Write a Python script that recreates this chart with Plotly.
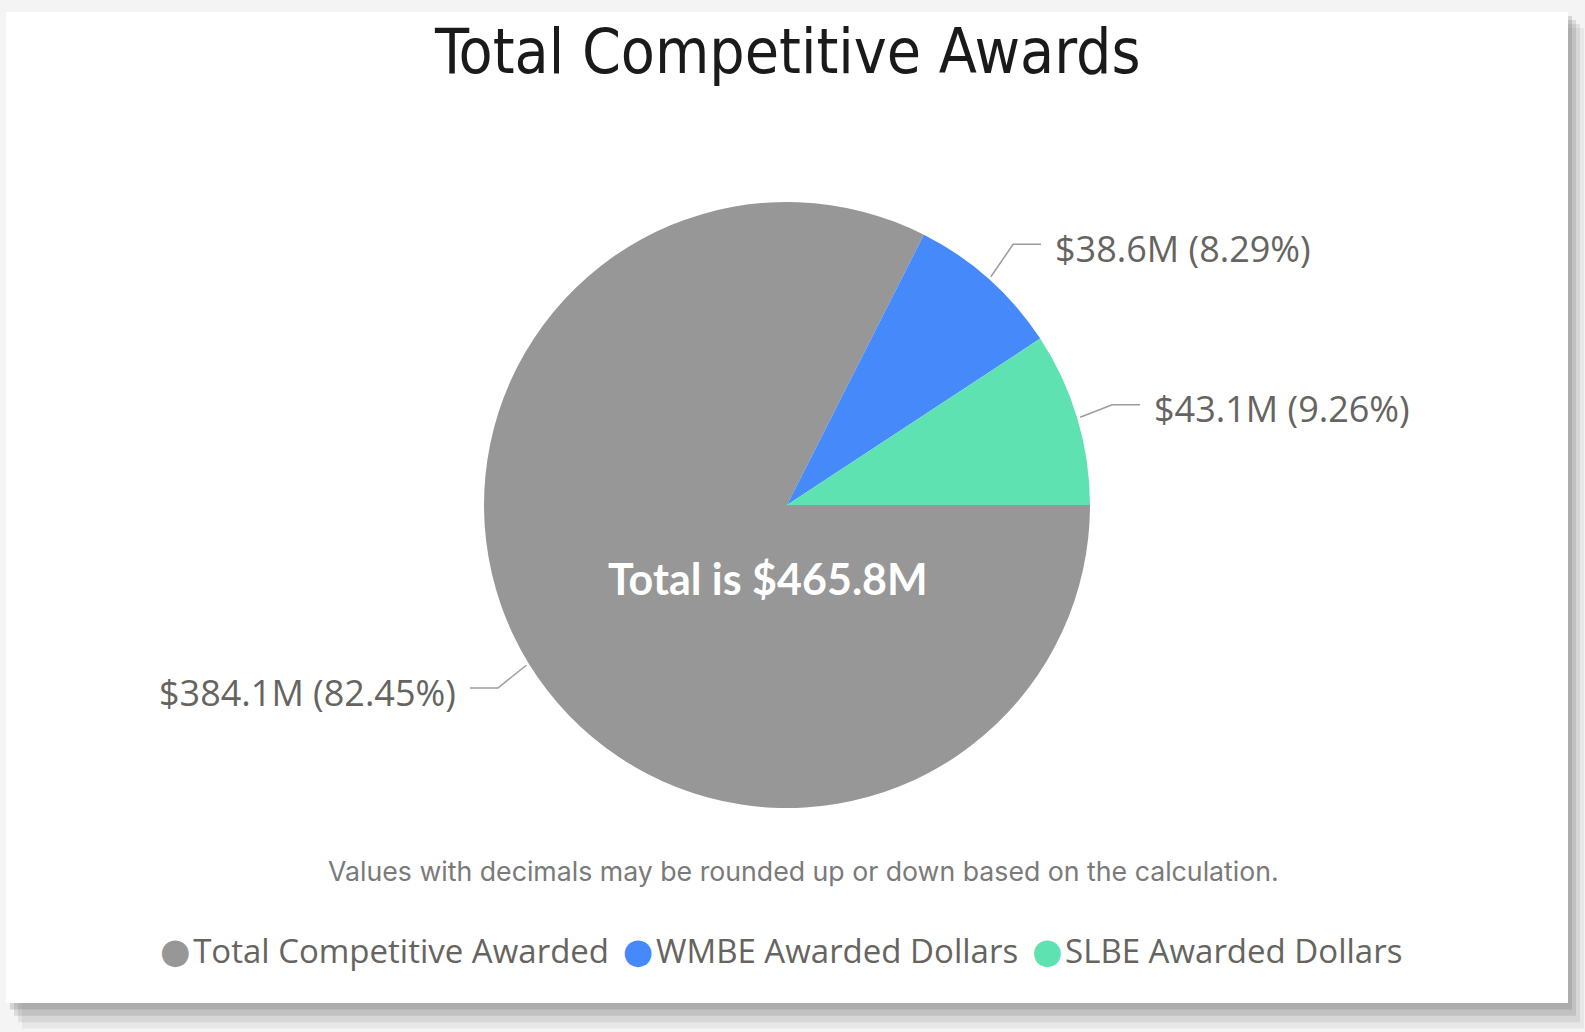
import math
import plotly.graph_objects as go

# Award categories and their dollar amounts (millions)
categories = ["Total Competitive Awarded", "WMBE Awarded Dollars", "SLBE Awarded Dollars"]
amounts_m = [384.1, 38.6, 43.1]
shares_pct = [82.45, 8.29, 9.26]
slice_colors = ["#979797", "#4589FA", "#5FE2B2"]

W, H = 1585, 1032
CX, CY, R = 787, 505, 303          # pie centre / radius in pixels
LABEL_FONT = "Open Sans, Noto Sans, sans-serif"
GREY_TEXT = "#66645F"


def px(x, y):
    """pixel position -> paper coordinates"""
    return x / W, 1 - y / H


fig = go.Figure()

x0, _ = px(CX - R, 0)
x1, _ = px(CX + R, 0)
_, y1 = px(0, CY - R)
_, y0 = px(0, CY + R)
fig.add_trace(go.Pie(
    labels=categories,
    values=amounts_m,
    marker=dict(colors=slice_colors, line=dict(width=0)),
    sort=False,
    direction="clockwise",
    rotation=90,
    textinfo="none",
    hoverinfo="label+value+percent",
    showlegend=False,
    domain=dict(x=[x0, x1], y=[y0, y1]),
))

shapes = []
annotations = []

# card background with a soft drop shadow
for off, op in [(16, 0.08), (12, 0.12), (8, 0.16), (4, 0.20)]:
    shapes.append(dict(type="rect", xref="paper", yref="paper", layer="below",
                       x0=(6 + off) / W, x1=(1568 + off) / W,
                       y0=1 - (1003 + off * 1.6) / H, y1=1 - (12 + off) / H,
                       fillcolor=f"rgba(90,90,90,{op})", line=dict(width=0)))
shapes.append(dict(type="rect", xref="paper", yref="paper", layer="below",
                   x0=6 / W, x1=1568 / W, y0=1 - 1003 / H, y1=1 - 12 / H,
                   fillcolor="white", line=dict(width=0)))

# outside data labels with bent leader lines from each slice's mid-angle
total = sum(amounts_m)
cum = 0.0
for amt, pct in zip(amounts_m, shares_pct):
    mid = math.radians(90 + (cum + amt / 2) / total * 360)
    cum += amt
    sx, sy = CX + 1.01 * R * math.sin(mid), CY - 1.01 * R * math.cos(mid)
    ex, ey = CX + 1.12 * R * math.sin(mid), CY - 1.12 * 1.03 * R * math.cos(mid)
    side = 1 if math.sin(mid) >= 0 else -1
    hx = ex + side * 28
    p = [px(sx, sy), px(ex, ey), px(hx, ey)]
    path = "M {} {} L {} {} L {} {}".format(p[0][0], p[0][1], p[1][0], p[1][1], p[2][0], p[2][1])
    shapes.append(dict(type="path", xref="paper", yref="paper", path=path,
                       line=dict(color="#9C9C9C", width=1.5)))
    tx, ty = px(hx + side * 12, ey + 4)
    annotations.append(dict(
        x=tx, y=ty, xref="paper", yref="paper", showarrow=False,
        xanchor="left" if side > 0 else "right", yanchor="middle",
        text=f"${amt:.1f}M ({pct:.2f}%)",
        font=dict(family=LABEL_FONT, size=36, color=GREY_TEXT),
    ))

# centre total
cx_t, cy_t = px(768, 578)
annotations.append(dict(
    x=cx_t, y=cy_t, xref="paper", yref="paper", showarrow=False,
    xanchor="center", yanchor="middle",
    text=f"<b>Total is ${total:.1f}M</b>",
    font=dict(family="Lato, Open Sans, sans-serif", size=43, color="white"),
))

# title
tx_, ty_ = px(787, 52)
annotations.append(dict(
    x=tx_, y=ty_, xref="paper", yref="paper", showarrow=False,
    xanchor="center", yanchor="middle",
    text="Total Competitive Awards",
    font=dict(family="Liberation Sans Narrow, DejaVu Sans Condensed, Roboto, sans-serif",
              size=62, color="#1A1A1A"),
))

# footnote
fx, fy = px(803, 871)
annotations.append(dict(
    x=fx, y=fy, xref="paper", yref="paper", showarrow=False,
    xanchor="center", yanchor="middle",
    text="Values with decimals may be rounded up or down based on the calculation.",
    font=dict(family="Inter, Open Sans, sans-serif", size=26.7, color="#7A7A7A"),
))

# legend row: coloured dots followed by category names
items = []
for name, col in zip(categories, slice_colors):
    items.append(f"<span style='color:{col};font-family:DejaVu Sans;font-size:35px'>●</span>"
                 f"<span style='font-size:10px'> </span>{name}")
gap = "<span style='font-size:20px'> </span> "
lx, ly = px(781, 950)
annotations.append(dict(
    x=lx, y=ly, xref="paper", yref="paper", showarrow=False,
    xanchor="center", yanchor="middle",
    text=gap.join(items),
    font=dict(family=LABEL_FONT, size=33, color=GREY_TEXT),
))

fig.update_layout(
    width=W, height=H,
    margin=dict(l=0, r=0, t=0, b=0),
    paper_bgcolor="#F4F4F4",
    plot_bgcolor="rgba(0,0,0,0)",
    shapes=shapes,
    annotations=annotations,
)

fig.write_html("out.html")
